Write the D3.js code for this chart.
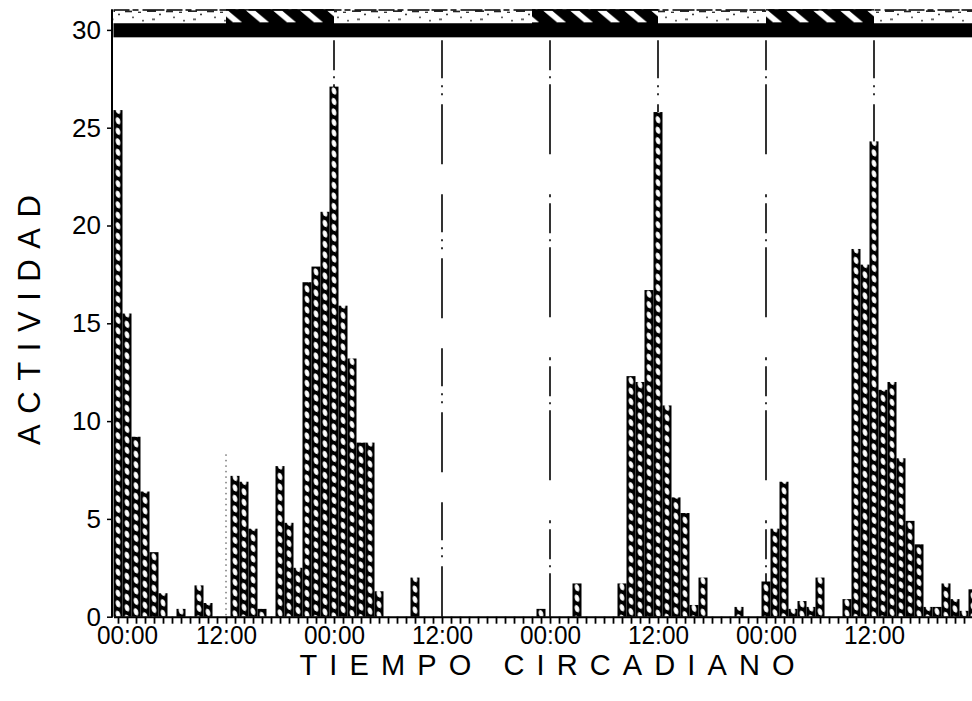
<!DOCTYPE html>
<html>
<head>
<meta charset="utf-8">
<script src="https://cdn.jsdelivr.net/npm/d3@7"></script>
<style>
  html, body { margin: 0; padding: 0; background: #fff; }
  svg { display: block; font-family: "Liberation Sans", Arial, Helvetica, sans-serif; }
</style>
</head>
<body>
<svg id="chart" width="972" height="701"></svg>
<script>
// Hourly activity counts over four circadian days (hour 0 = 00:00 of day 1)
const hours = d3.range(96);
const activity = [
  25.9, 15.5, 9.2, 6.4, 3.3, 1.2, 0, 0.4, 0, 1.6, 0.7, 0,
  0, 7.2, 6.9, 4.5, 0.4, 0, 7.7, 4.8, 2.5, 17.1, 17.9, 20.7,
  27.1, 15.9, 13.2, 8.9, 8.9, 1.3, 0, 0, 0, 2.0, 0, 0,
  0, 0, 0, 0, 0, 0, 0, 0, 0, 0, 0, 0.4,
  0, 0, 0, 1.7, 0, 0, 0, 0, 1.7, 12.3, 12.0, 16.7,
  25.8, 10.8, 6.1, 5.3, 0.6, 2.0, 0, 0, 0, 0.5, 0, 0,
  1.8, 4.5, 6.9, 0.4, 0.8, 0.5, 2.0, 0, 0, 0.9, 18.8, 18.0,
  24.3, 11.6, 12.0, 8.1, 4.9, 3.7, 0.5, 0.5, 1.7, 0.9, 0.3, 1.4
];

// Axis ticks and labels
const yTicks = [0, 5, 10, 15, 20, 25, 30];
const xLabelHours = [0, 12, 24, 36, 48, 60, 72, 84];
const xLabelText = ["00:00", "12:00", "00:00", "12:00", "00:00", "12:00", "00:00", "12:00"];

// Reference lines at every 12 h, and the dark (hatched) spans of the light schedule
const dividerHours = [24, 36, 48, 60, 72, 84];
const faintDividerHours = [12];
const hatchedSpans = [[12, 24], [46, 60], [72, 84]];

const svg = d3.select("#chart");

const x = d3.scaleLinear().domain([-0.5, 96]).range([113.5, 982]);
const y = d3.scaleLinear().domain([0, 30]).range([616.7, 29.9]);

const defs = svg.append("defs");

// Black bar fill with slanted white ovals
const colW = x(0.5) - x(-0.5);
const dots = defs.append("pattern")
  .attr("id", "dots")
  .attr("patternUnits", "userSpaceOnUse")
  .attr("x", x(-0.5)).attr("y", 0)
  .attr("width", colW).attr("height", 10.5)
  .attr("patternTransform", "skewY(24)");
dots.append("rect").attr("width", colW).attr("height", 10.5).attr("fill", "#000");
dots.append("ellipse")
  .attr("cx", colW / 2).attr("cy", 5.25)
  .attr("rx", 2.3).attr("ry", 3.4)
  .attr("fill", "#fff");

// Band geometry for the light/dark bar at the top
const bandTop = y(31.06);
const bandMid = y(30.34);
const bandBottom = y(29.62);
const bandH = bandMid - bandTop;

// Diagonal hatching for dark spans
const hatch = defs.append("pattern")
  .attr("id", "hatch")
  .attr("patternUnits", "userSpaceOnUse")
  .attr("x", 0).attr("y", bandTop)
  .attr("width", 27).attr("height", bandH + 1);
hatch.append("rect").attr("width", 27).attr("height", bandH + 1).attr("fill", "#000");
hatch.append("polygon")
  .attr("points", `3,1.5 12,1.5 ${12 + bandH},${bandH - 1} ${3 + bandH},${bandH - 1}`)
  .attr("fill", "#fff");

// Light spans: white with sparse dark flecks
const speckle = defs.append("pattern")
  .attr("id", "speckle")
  .attr("patternUnits", "userSpaceOnUse")
  .attr("x", 0).attr("y", bandTop)
  .attr("width", 41).attr("height", bandH);
speckle.append("rect").attr("width", 41).attr("height", bandH).attr("fill", "#fff");
[[2, 1.5, 7, 1.6], [15, 2.5, 3, 1.2], [24, 1.2, 9, 1.6], [36, 4.5, 2, 1.4],
 [9, 7.5, 2, 1.2], [29, 9.5, 3, 1.3], [19, 11, 2, 1.2]].forEach(([sx, sy, sw, sh]) => {
  speckle.append("rect").attr("x", sx).attr("y", sy).attr("width", sw).attr("height", sh).attr("fill", "#222");
});

// ---- top light/dark band ----
const band = svg.append("g").attr("class", "photoperiod");
band.append("rect")
  .attr("x", x(-0.5)).attr("y", bandTop)
  .attr("width", x(96) - x(-0.5)).attr("height", bandH)
  .attr("fill", "url(#speckle)");
band.selectAll("rect.dark")
  .data(hatchedSpans)
  .join("rect")
  .attr("class", "dark")
  .attr("x", d => x(d[0])).attr("y", bandTop)
  .attr("width", d => x(d[1]) - x(d[0])).attr("height", bandH + 1)
  .attr("fill", "url(#hatch)");
band.append("rect")
  .attr("x", x(-0.5)).attr("y", bandMid)
  .attr("width", x(96) - x(-0.5)).attr("height", bandBottom - bandMid)
  .attr("fill", "#000");
band.append("line")
  .attr("x1", x(-0.5)).attr("x2", x(96))
  .attr("y1", bandTop + 0.8).attr("y2", bandTop + 0.8)
  .attr("stroke", "#000").attr("stroke-width", 1.6)
  .attr("stroke-dasharray", "16,3,6,4,22,2");

// ---- 12 h reference lines ----
svg.append("g")
  .selectAll("line")
  .data(dividerHours)
  .join("line")
  .attr("x1", d => x(d)).attr("x2", d => x(d))
  .attr("y1", bandBottom + 3).attr("y2", y(0))
  .attr("stroke", "#000").attr("stroke-width", 1.6)
  .attr("stroke-dasharray", (d, i) => i % 2 ? "38,7,2,6,2,9,60,30" : "30,6,2,6,70,40,3,6");
svg.append("g")
  .selectAll("line")
  .data(faintDividerHours)
  .join("line")
  .attr("x1", d => x(d)).attr("x2", d => x(d))
  .attr("y1", y(8.3)).attr("y2", y(0))
  .attr("stroke", "#333").attr("stroke-width", 1)
  .attr("stroke-dasharray", "1.5,4");

// ---- bars ----
svg.append("g")
  .selectAll("rect")
  .data(hours.filter(h => activity[h] > 0))
  .join("rect")
  .attr("x", h => x(h - 0.5))
  .attr("width", h => x(h + 0.5) - x(h - 0.5))
  .attr("y", h => y(activity[h]))
  .attr("height", h => y(0) - y(activity[h]))
  .attr("fill", "url(#dots)");

// ---- axes ----
const yAxis = svg.append("g")
  .attr("transform", `translate(${x(-0.5) - 1.5},0)`)
  .call(d3.axisLeft(y).tickValues(yTicks).tickSize(5).tickPadding(6));
yAxis.select(".domain").remove();
yAxis.selectAll(".tick line").attr("stroke", "#000").attr("stroke-width", 1.5);
yAxis.selectAll(".tick text")
  .attr("font-size", 26)
  .attr("font-family", "Liberation Sans, Arial, sans-serif")
  .attr("fill", "#000");
svg.append("line")
  .attr("x1", x(-0.5) - 1.5).attr("x2", x(-0.5) - 1.5)
  .attr("y1", bandTop).attr("y2", y(0) + 1)
  .attr("stroke", "#000").attr("stroke-width", 2);

const xAxis = svg.append("g")
  .attr("transform", `translate(0,${y(0)})`)
  .call(d3.axisBottom(x)
    .tickValues(hours)
    .tickSize(7)
    .tickSizeOuter(0)
    .tickPadding(3)
    .tickFormat(h => {
      const i = xLabelHours.indexOf(h);
      return i >= 0 ? xLabelText[i] : "";
    }));
xAxis.select(".domain").attr("stroke", "#000").attr("stroke-width", 2);
xAxis.selectAll(".tick line").attr("stroke", "#000").attr("stroke-width", 1.8);
xAxis.selectAll(".tick text")
  .filter(h => xLabelHours.includes(h))
  .attr("font-size", 25)
  .attr("font-family", "Liberation Sans, Arial, sans-serif")
  .attr("fill", "#000")
  .attr("textLength", 61)
  .attr("lengthAdjust", "spacingAndGlyphs")
  .attr("dx", h => h === 0 ? 9 : 0);

// ---- axis titles ----
svg.append("text")
  .attr("transform", "translate(40,320) rotate(-90)")
  .attr("text-anchor", "middle")
  .attr("font-size", 31)
  .attr("textLength", 250)
  .attr("lengthAdjust", "spacing")
  .text("ACTIVIDAD");
svg.append("text")
  .attr("x", 547).attr("y", 675)
  .attr("text-anchor", "middle")
  .attr("font-size", 29)
  .attr("textLength", 495)
  .attr("lengthAdjust", "spacing")
  .text("TIEMPO CIRCADIANO");
</script>
</body>
</html>
